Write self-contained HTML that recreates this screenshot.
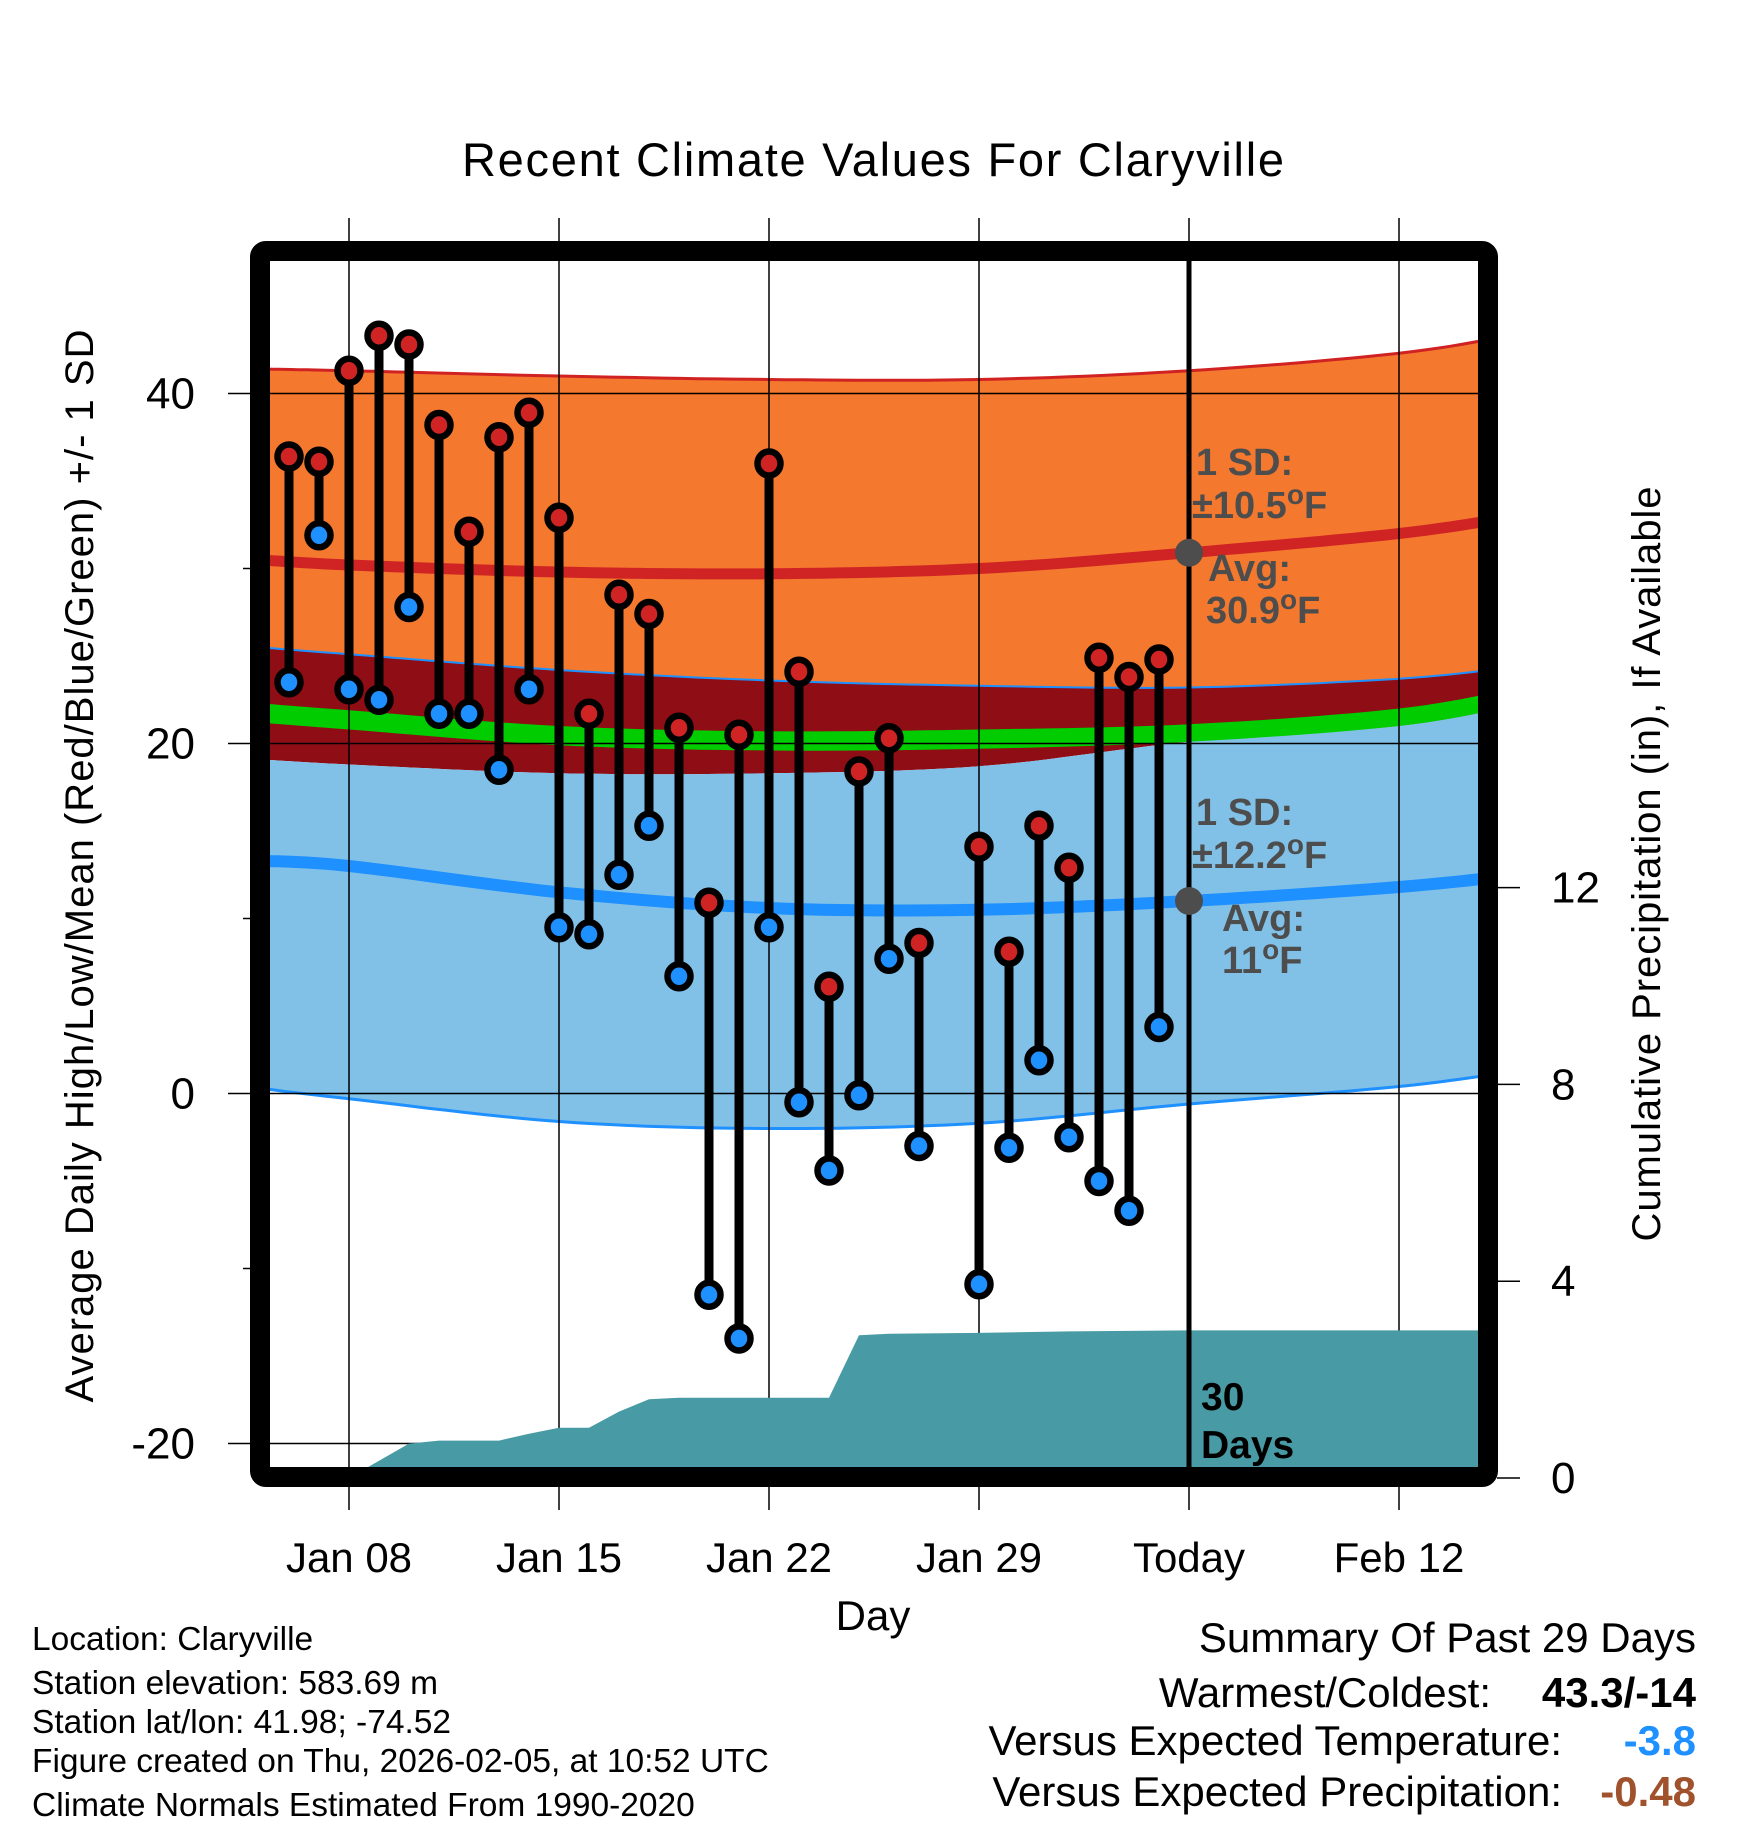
<!DOCTYPE html>
<html><head><meta charset="utf-8"><style>
html,body{margin:0;padding:0;background:#fff}
svg{display:block;font-family:"Liberation Sans",sans-serif}
</style></head><body>
<svg id="chart" width="1748" height="1828" viewBox="0 0 1748 1828" xmlns="http://www.w3.org/2000/svg">
<defs><clipPath id="plotclip"><rect x="270" y="261" width="1210" height="1206"/></clipPath></defs>
<g id="bands" clip-path="url(#plotclip)"></g>
<g id="grid"></g>
<g id="precip" clip-path="url(#plotclip)"></g>
<g id="marks"></g>
<g id="axes"></g>
<text x="873" y="176" font-size="47" text-anchor="middle" textLength="822">Recent Climate Values For Claryville</text>
<text transform="translate(93,866) rotate(-90)" font-size="40" text-anchor="middle" textLength="1073">Average Daily High/Low/Mean (Red/Blue/Green) +/- 1 SD</text>
<text transform="translate(1660,864) rotate(-90)" font-size="40" text-anchor="middle" textLength="755">Cumulative Precipitation (in), If Available</text>
<text x="873" y="1630" font-size="42" text-anchor="middle">Day</text>
<g fill="#4d4d4d" font-weight="bold" font-size="38">
<text x="1196" y="475">1 SD:</text>
<text x="1192" y="518">±10.5<tspan font-size="28" dy="-14">o</tspan><tspan dy="14">F</tspan></text>
<text x="1208" y="581">Avg:</text>
<text x="1206" y="623">30.9<tspan font-size="28" dy="-14">o</tspan><tspan dy="14">F</tspan></text>
<text x="1196" y="825">1 SD:</text>
<text x="1192" y="868">±12.2<tspan font-size="28" dy="-14">o</tspan><tspan dy="14">F</tspan></text>
<text x="1222" y="931">Avg:</text>
<text x="1222" y="973">11<tspan font-size="28" dy="-14">o</tspan><tspan dy="14">F</tspan></text>
</g>
<g font-weight="bold" font-size="39" fill="#000">
<text x="1201" y="1410">30</text><text x="1201" y="1458">Days</text></g>
<g font-size="33.5" fill="#000">
<text x="32" y="1650">Location: Claryville</text>
<text x="32" y="1694">Station elevation: 583.69 m</text>
<text x="32" y="1733">Station lat/lon: 41.98; -74.52</text>
<text x="32" y="1772">Figure created on Thu, 2026-02-05, at 10:52 UTC</text>
<text x="32" y="1816">Climate Normals Estimated From 1990-2020</text>
</g>
<g font-size="42" text-anchor="end">
<text x="1696" y="1652">Summary Of Past 29 Days</text>
<text x="1491" y="1707">Warmest/Coldest:</text>
<text x="1696" y="1707" font-weight="bold">43.3/-14</text>
<text x="1562" y="1755">Versus Expected Temperature:</text>
<text x="1696" y="1755" font-weight="bold" fill="#1e90ff">-3.8</text>
<text x="1562" y="1806">Versus Expected Precipitation:</text>
<text x="1696" y="1806" font-weight="bold" fill="#a0522d">-0.48</text>
</g>
</svg>
<script>
// ---- data ----
const normDays   = [5, 8, 15, 22, 29, 36, 43, 47];
const hiUpper    = [41.4, 41.3, 41.0, 40.8, 40.8, 41.3, 42.3, 43.4];
const hiMean     = [30.5, 30.2, 29.8, 29.7, 30.0, 30.9, 32.0, 33.0];
const hiLower    = [25.5, 25.1, 24.2, 23.6, 23.3, 23.2, 23.7, 24.4];
const meanUpper  = [22.3, 21.9, 21.0, 20.7, 20.8, 21.1, 22.0, 23.2];
const meanLower  = [21.2, 20.8, 19.9, 19.6, 19.7, 20.1, 21.0, 22.2];
const loUpper    = [19.1, 18.8, 18.3, 18.3, 18.7, 20.1, 21.0, 22.2];
const loMean     = [13.3, 13.0, 11.5, 10.6, 10.5, 11.0, 11.8, 12.5];
const loLower    = [0.3, -0.3, -1.6, -2.0, -1.7, -0.6, 0.4, 1.3];
const obsDays  = [6,7,8,9,10,11,12,13,14,15,16,17,18,19,20,21,22,23,24,25,26,27,29,30,31,32,33,34,35];
const obsHigh  = [36.4,36.1,41.3,43.3,42.8,38.2,32.1,37.5,38.9,32.9,21.7,28.5,27.4,20.9,10.9,20.5,36.0,24.1,6.1,18.4,20.3,8.6,14.1,8.1,15.3,12.9,24.9,23.8,24.8];
const obsLow   = [23.5,31.9,23.1,22.5,27.8,21.7,21.7,18.5,23.1,9.5,9.1,12.5,15.3,6.7,-11.5,-14.0,9.5,-0.5,-4.4,-0.1,7.7,-3.0,-10.9,-3.1,1.9,-2.5,-5.0,-6.7,3.8];
const precDays = [8,9,10,11,13,14,15,16,17,18,19,24,25,26,29,32,36,47];
const precCum  = [0,0.35,0.7,0.76,0.76,0.9,1.02,1.02,1.35,1.6,1.63,1.63,2.9,2.93,2.95,2.98,3.0,3.0];
const xTickDays = [8,15,22,29,36,43];
const xTickLabels = ["Jan 08","Jan 15","Jan 22","Jan 29","Today","Feb 12"];
const yTicks = [40,20,0,-20];
const yMinor = [30,10,-10];
const y2Ticks = [0,4,8,12];
const todayDay = 36, todayHi = 30.9, todayLo = 11;

// ---- scales ----
const X = d => 349 + (d - 8) * 30;
const Y = v => 1093.5 - 17.5 * v;
const Y2 = p => 1478 - 49.2 * p;
const NS = "http://www.w3.org/2000/svg";
function mk(tag, attrs, parent){ const e=document.createElementNS(NS,tag); for(const k in attrs) e.setAttribute(k,attrs[k]); parent.appendChild(e); return e; }
function curvePts(days, vals){
  const pts=[]; const P=days.map((d,i)=>[X(d),Y(vals[i])]);
  for(let i=0;i<P.length-1;i++){
    const p0=P[Math.max(0,i-1)],p1=P[i],p2=P[i+1],p3=P[Math.min(P.length-1,i+2)];
    for(let s=0;s<12;s++){const t=s/12,t2=t*t,t3=t2*t;
      const f=(a,b,c,d)=>0.5*((2*b)+(-a+c)*t+(2*a-5*b+4*c-d)*t2+(-a+3*b-3*c+d)*t3);
      pts.push([f(p0[0],p1[0],p2[0],p3[0]),f(p0[1],p1[1],p2[1],p3[1])]);}
  }
  pts.push(P[P.length-1]); return pts;
}
const str = pts => pts.map(p=>p[0].toFixed(1)+","+p[1].toFixed(1)).join(" ");
function band(top,bot,fill,name,parent){
  const a=curvePts(normDays,top), b=curvePts(normDays,bot).reverse();
  const el=mk("polygon",{points:str(a.concat(b)),fill:fill},parent);
  
  
}
function line(vals,color,w,name,parent){
  const el=mk("polyline",{points:str(curvePts(normDays,vals)),fill:"none",stroke:color,"stroke-width":w},parent);
  
  
}
const bands=document.getElementById("bands");
band(hiUpper,hiLower,"#f4792e","high-sd-band",bands);
band(hiLower,loUpper,"#8f0d14","overlap-band",bands);
band(loUpper,loLower,"#82c1e7","low-sd-band",bands);
band(meanUpper,meanLower,"#00cc00","mean-band",bands);
line(hiUpper,"#d02222",3,"high-upper-line",bands);
line(hiLower,"#1e90ff",2,"high-lower-line",bands);
line(loLower,"#1e90ff",3,"low-lower-line",bands);
line(hiMean,"#d02424",11,"high-mean-line",bands);
line(loMean,"#1e90ff",12,"low-mean-line",bands);

// grid
const grid=document.getElementById("grid");
xTickDays.forEach(d=>{
  const el=mk("line",{x1:X(d),x2:X(d),y1:218,y2:1510,stroke:"#000","stroke-width":1.5},grid);
  
  
});
yTicks.forEach(v=>{
  const el=mk("line",{x1:228,x2:1480,y1:Y(v),y2:Y(v),stroke:"#000","stroke-width":1.5},grid);
  
  
});

// precip
const precip=document.getElementById("precip");
const pp=precDays.map((d,i)=>[X(d),Y2(precCum[i])]);
pp.push([X(precDays[precDays.length-1]),1480]); pp.push([X(precDays[0]),1480]);
const pe=mk("polygon",{points:str(pp),fill:"#489ba4"},precip);



// today line
const marks=document.getElementById("marks");
const tl=mk("line",{x1:X(todayDay),x2:X(todayDay),y1:258,y2:1470,stroke:"#000","stroke-width":5},marks);


[todayHi,todayLo].forEach(v=>{
  const c=mk("circle",{cx:X(todayDay),cy:Y(v),r:14,fill:"#4d4d4d"},marks);
  
  
});

// daily stems and dots
obsDays.forEach((d,i)=>{
  const x=X(d);
  const s=mk("line",{x1:x,x2:x,y1:Y(obsHigh[i]),y2:Y(obsLow[i]),stroke:"#000","stroke-width":9},marks);
  
  
  const h=mk("ellipse",{cx:x,cy:Y(obsHigh[i]),rx:11.5,ry:12,fill:"#d02424",stroke:"#000","stroke-width":6.5},marks);
  
  
  const l=mk("ellipse",{cx:x,cy:Y(obsLow[i]),rx:11.5,ry:12,fill:"#1e90ff",stroke:"#000","stroke-width":6.5},marks);
  
  
});

// axes
const axes=document.getElementById("axes");
const fr=mk("rect",{x:260,y:251,width:1228,height:1226,rx:6,fill:"none",stroke:"#000","stroke-width":20},axes);


yTicks.forEach(v=>{
  const t=mk("text",{x:195,y:Y(v)+15,"font-size":44,"text-anchor":"end"},axes);
  t.textContent=v;
  
  
});
yMinor.forEach(v=>{
  const t=mk("line",{x1:243,x2:252,y1:Y(v),y2:Y(v),stroke:"#000","stroke-width":1.5},axes);
  
  
});
y2Ticks.forEach(p=>{
  const tk=mk("line",{x1:1497,x2:1520,y1:Y2(p),y2:Y2(p),stroke:"#000","stroke-width":1.5},axes);
  
  
  const t=mk("text",{x:1551,y:Y2(p)+15,"font-size":44},axes);
  t.textContent=p;
  
  
});
xTickDays.forEach((d,i)=>{
  const t=mk("text",{x:X(d),y:1572,"font-size":42,"text-anchor":"middle"},axes);
  t.textContent=xTickLabels[i];
  
  
});
</script>
</body></html>
